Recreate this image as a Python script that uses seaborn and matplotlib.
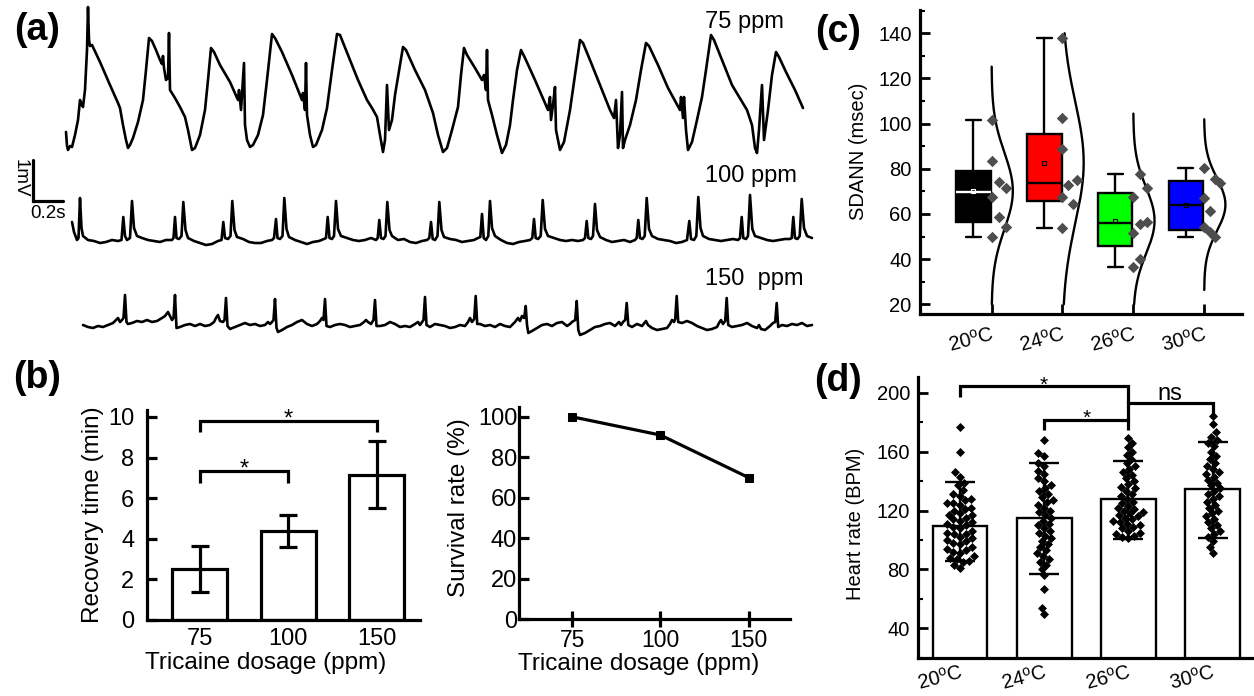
import numpy as np
import pandas as pd
import matplotlib
matplotlib.use('Agg')
import matplotlib.pyplot as plt
from matplotlib.ticker import MultipleLocator
import seaborn as sns

# ---------------- data ----------------
# (a) ECG traces as (sample, raw) pairs
# 150 samples per second, 41 raw units per mV (raw grows downwards)
FS = 150.0
GAIN = 41.0
Y0 = 150.0
trace_75 = [
    (66, 132), (67, 146), (68, 150), (70, 146), (72, 147), (75, 135), (78, 120), (80, 100), (81, 103), (83, 107),
    (85, 90), (87, 50), (88, 7), (89, 40), (90, 46), (92, 45), (100, 62), (110, 85), (118, 103), (120, 108),
    (123, 125), (126, 140), (128, 148),
    (130, 145), (133, 138), (138, 122), (143, 100), (146, 70), (149, 38), (152, 41), (156, 50), (160, 60), (162, 64),
    (163, 56), (164, 68), (166, 80), (168, 78), (169, 33), (170, 90), (175, 98), (180, 107), (185, 117), (188, 130),
    (192, 150),
    (195, 148), (200, 135), (205, 110), (208, 80), (211, 48), (214, 52), (220, 65), (230, 82), (238, 100), (239, 90),
    (241, 110), (244, 63), (245, 125), (247, 140), (250, 147),
    (253, 145), (258, 135), (263, 115), (267, 80), (272, 34), (275, 38), (282, 52), (292, 75), (302, 100), (303, 93),
    (305, 110), (306, 63), (307, 115), (310, 135), (313, 147),
    (316, 145), (322, 130), (327, 108), (332, 70), (337, 34), (340, 35), (348, 55), (358, 80), (367, 100), (372, 108),
    (377, 117), (380, 135), (383, 152), (385, 140), (387, 85), (389, 130), (392, 120),
    (395, 95), (400, 65), (403, 47), (406, 50), (415, 70), (425, 90), (433, 113), (438, 135), (443, 152),
    (447, 148), (452, 130), (458, 107), (461, 75), (464, 48), (467, 55), (475, 68), (482, 80), (484, 75), (486, 90),
    (487, 50), (488, 100), (492, 115), (497, 135), (502, 153),
    (506, 145), (510, 125), (513, 100), (517, 70), (521, 50), (525, 58), (535, 80), (548, 110), (550, 97), (551, 120),
    (553, 105), (555, 87), (556, 130), (560, 150),
    (564, 142), (570, 110), (575, 75), (580, 40), (583, 43), (592, 65), (602, 90), (610, 110), (614, 118), (616, 100),
    (618, 148), (620, 135), (622, 92), (623, 148), (625, 140),
    (630, 125), (636, 100), (641, 70), (646, 43), (649, 46), (658, 65), (668, 88), (680, 110), (681, 97), (683, 118),
    (684, 97), (686, 130), (688, 150),
    (692, 142), (697, 120), (702, 97), (706, 70), (711, 35), (714, 40), (722, 60), (732, 85), (747, 110), (752, 125),
    (755, 148), (757, 153), (759, 130), (762, 85), (764, 140),
    (768, 110), (772, 75), (776, 52), (779, 57), (786, 72), (795, 90), (803, 108)]

trace_100 = [
    (72, 222), (74, 232), (77, 240), (78.5, 238), (80, 198), (81.5, 228), (83, 236), (88, 240), (94, 241), (100, 243),
    (106, 242), (112, 240), (118, 241), (121.5, 240), (123.3, 217), (125, 236), (127, 240), (130, 238), (132, 201),
    (134, 228), (137, 236), (142, 238), (148, 240), (154, 241), (160, 242), (166, 240), (172, 240), (173.5, 238),
    (175, 217), (176.5, 238), (179, 239), (181.5, 236), (183.3, 202), (185.5, 230), (188, 238), (194, 241), (200, 243),
    (206, 245), (212, 244), (218, 241), (221.5, 240), (223.3, 222), (225, 238), (228, 239), (230.5, 236), (232.3, 201),
    (234.5, 230), (237, 237), (243, 239), (249, 242), (255, 243), (261, 243), (267, 241), (272, 240), (274, 238),
    (276, 219), (277.5, 238), (280, 239), (282.5, 236), (284.3, 198), (286.5, 229), (289, 237), (295, 240), (301, 242),
    (307, 244), (313, 242), (319, 241), (324, 239), (326, 238), (327.7, 217), (329.5, 238), (332, 239), (334, 236),
    (336, 201), (338, 229), (341, 236), (347, 238), (353, 240), (359, 241), (365, 240), (371, 238), (376, 240),
    (377.7, 238), (379.3, 220), (381, 238), (383.5, 239), (385.5, 236), (387.3, 202), (389.5, 230), (392, 236),
    (398, 240), (404, 239), (410, 242), (416, 243), (422, 241), (427, 240), (429.3, 238), (431, 222), (432.7, 239),
    (435, 240), (437.5, 236), (439.3, 202), (441.5, 230), (444, 237), (450, 239), (456, 240), (462, 242), (468, 241),
    (474, 240), (478, 238), (480.3, 237), (482, 214), (483.7, 238), (486, 240), (488.3, 236), (490, 201), (492, 228),
    (495, 236), (501, 240), (507, 243), (513, 244), (519, 242), (525, 241), (530, 240), (532.3, 238), (534, 219),
    (535.7, 238), (538, 239), (540.7, 236), (542.7, 200), (545, 229), (548, 236), (554, 238), (560, 240), (566, 241),
    (572, 240), (578, 241), (583, 240), (585, 238), (586.7, 221), (588.3, 238), (591, 239), (593, 236), (595, 204),
    (597, 230), (600, 237), (606, 240), (612, 242), (618, 241), (624, 240), (630, 242), (635, 240), (636.7, 238),
    (638.3, 220), (640, 238), (642.5, 239), (644.7, 236), (646.7, 198), (649, 229), (652, 236), (658, 239), (664, 240),
    (670, 241), (676, 243), (682, 242), (687, 240), (689.3, 221), (691, 239), (694, 240), (696.3, 236), (698.3, 197),
    (700.5, 228), (703, 236), (709, 239), (715, 240), (721, 241), (727, 240), (733, 239), (738, 240), (740, 238),
    (741.7, 217), (743.3, 238), (746, 239), (748, 236), (750, 195), (752.3, 229), (755, 236), (761, 238), (767, 240),
    (773, 241), (779, 240), (785, 239), (790, 239), (791.7, 238), (793.3, 217), (795, 238), (797.5, 239),
    (799.7, 236), (801.7, 199), (804, 228), (807, 236), (812, 238)]

trace_150 = [
    (83, 325), (88, 327), (93, 328), (98, 326), (103, 327), (108, 325), (113, 323), (116, 320), (118, 318), (120, 322),
    (122, 320), (123.5, 318), (125, 295), (126.5, 322), (128, 324), (132, 323), (137, 321), (142, 322), (147, 320),
    (152, 322), (157, 321), (162, 318), (165, 316), (168, 312), (170, 316), (172, 320), (173.5, 318), (175, 295),
    (176.5, 328), (180, 327), (185, 325), (190, 324), (195, 326), (200, 324), (205, 326), (210, 325), (214, 322),
    (216, 318), (218, 315), (220, 321), (223, 322), (224.5, 320), (226, 298), (227.5, 326), (230, 329), (235, 327),
    (240, 325), (245, 323), (250, 325), (255, 324), (260, 326), (265, 325), (268, 322), (270, 324), (272, 322),
    (273.5, 320), (275, 299), (276.5, 328), (278, 332), (282, 330), (287, 327), (292, 325), (297, 322), (302, 320),
    (307, 324), (312, 326), (317, 324), (320, 321), (322, 318), (323.5, 320), (325, 299), (326.5, 326), (330, 327),
    (335, 325), (340, 324), (345, 325), (350, 327), (355, 326), (360, 325), (364, 322), (366, 320), (368, 322),
    (371, 324), (373.5, 320), (375, 300), (376.5, 326), (380, 326), (385, 325), (390, 322), (395, 324), (400, 327),
    (405, 326), (410, 327), (415, 324), (418, 322), (420, 325), (423.5, 320), (425, 297), (426.5, 325), (430, 327),
    (435, 324), (440, 325), (445, 326), (450, 328), (455, 327), (460, 325), (465, 326), (468, 322), (470, 318),
    (472, 322), (474.2, 319), (475.7, 296), (477.2, 324), (480, 324), (485, 326), (490, 325), (495, 327), (500, 324),
    (505, 326), (510, 327), (515, 322), (518, 318), (520, 321), (522, 316), (524.2, 318), (525.7, 306), (527, 325),
    (528.3, 333), (532, 331), (537, 328), (542, 325), (547, 324), (552, 326), (557, 323), (562, 322), (567, 326),
    (570, 324), (572, 322), (575.2, 320), (576.7, 301), (578.3, 330), (580, 335), (585, 333), (590, 330), (595, 327),
    (600, 326), (605, 324), (610, 323), (615, 326), (619, 322), (621, 325), (623, 322), (625.2, 320), (626.7, 303),
    (628.3, 325), (632, 327), (637, 324), (642, 326), (646, 321), (648, 325), (652, 328), (657, 330), (662, 329),
    (667, 328), (670, 324), (672, 320), (674, 322), (675.2, 319), (676.7, 296), (678.2, 322), (682, 323), (687, 321),
    (692, 323), (697, 326), (702, 328), (707, 330), (712, 329), (717, 327), (719, 323), (721, 320), (723, 324),
    (725.2, 321), (726.7, 298), (728.2, 325), (732, 327), (737, 326), (742, 325), (747, 323), (752, 326), (757, 328),
    (759, 325), (761, 329), (765, 330), (770, 326), (773, 323), (775.2, 322), (776.7, 303), (778.2, 327), (782, 325),
    (787, 326), (792, 324), (797, 325), (802, 323), (807, 326), (812, 325)]

# (b) recovery time and survival
doses = ['75', '100', '150']
recovery_mean = [2.5, 4.38, 7.15]
recovery_sd = [1.13, 0.78, 1.65]
survival = [100, 91, 70]

# (c) SDANN per temperature
temps = ['20', '24', '26', '30']
sdann_20 = [101.7, 83.6, 74.3, 71.6, 67.7, 58.8, 54.1, 49.7]
sdann_24 = [137.8, 102.4, 88.6, 72.8, 75.0, 67.4, 64.4, 53.7]
sdann_26 = [67.4, 51.4, 77.7, 71.4, 55.6, 56.6, 39.9, 36.6]
sdann_30 = [80.2, 75.3, 73.6, 66.9, 61.5, 54.1, 51.9, 49.7]
# horizontal placement of the dots next to each box (category units)
dots_20 = [0, 0, 0.10, 0.20, 0, 0.10, 0.20, 0]
dots_24 = [0, 0, 0, 0.08, 0.21, 0, 0.15, 0]
dots_26 = [0, 0, 0.10, 0.20, 0.10, 0.20, 0.10, 0]
dots_30 = [0, 0.15, 0.22, 0, 0.08, 0, 0.08, 0.15]
box_colors = ['#000000', '#ff0000', '#00ff00', '#0000ff']

# (d) heart rate
hr_mean = [109.5, 114.7, 127.6, 134.4]
hr_lo = [85.9, 76.9, 100.6, 101.1]
hr_hi = [139.6, 152.5, 153.8, 166.7]
hr_20 = [177, 160, 146, 143, 139, 137, 134, 131, 130, 128, 127, 125, 125, 124, 122, 121, 120, 118, 117, 117,
         115, 114, 113, 112, 111, 110, 109, 108, 106, 105, 104, 104, 102, 101, 100, 99, 98, 97, 95, 94,
         93, 92, 91, 89, 88, 87, 86, 85, 83, 81]
hr_24 = [168, 159, 157, 152, 150, 147, 145, 142, 140, 137, 135, 133, 131, 129, 127, 126, 124, 122, 120, 119,
         117, 115, 113, 111, 110, 108, 106, 105, 103, 101, 99, 97, 95, 93, 91, 89, 87, 85, 83, 80,
         76, 67, 54, 50]
hr_26 = [169, 166, 163, 160, 158, 155, 152, 150, 148, 146, 144, 142, 140, 138, 136, 135, 133, 131, 130, 128,
         126, 125, 123, 122, 121, 120, 119, 118, 117, 116, 115, 114, 113, 112, 111, 110, 109, 108, 106, 105,
         104, 103, 102, 101]
hr_30 = [184, 179, 173, 170, 168, 166, 164, 160, 157, 155, 152, 150, 148, 146, 145, 143, 141, 139, 137, 135,
         133, 131, 130, 128, 126, 124, 122, 120, 118, 116, 114, 112, 110, 108, 106, 104, 102, 99, 95, 91]

# ---------------- style ----------------
sns.set_theme(style='ticks')
plt.rcParams['font.family'] = ['Liberation Sans', 'DejaVu Sans']
plt.rcParams['mathtext.fontset'] = 'custom'
plt.rcParams['mathtext.rm'] = 'Liberation Sans'
plt.rcParams['mathtext.it'] = 'Liberation Sans:italic'
for key in ['text.color', 'axes.labelcolor', 'xtick.color', 'ytick.color', 'axes.edgecolor']:
    plt.rcParams[key] = 'black'

W, H = 1254, 696
fig = plt.figure(figsize=(W / 100, H / 100), dpi=100)


def add_px(left, top, right, bottom):
    return fig.add_axes([left / W, 1 - bottom / H, (right - left) / W, (bottom - top) / H])


def frame(ax, lw):
    for s in ['top', 'right']:
        ax.spines[s].set_visible(False)
    for s in ['left', 'bottom']:
        ax.spines[s].set_linewidth(lw)
        ax.spines[s].set_color('black')


def bracket(ax, x0, x1, y, leg0, leg1, lw=2.3):
    ax.plot([x0, x0, x1, x1], [leg0, y, y, leg1], color='black', lw=lw,
            solid_capstyle='butt', solid_joinstyle='miter', clip_on=False, zorder=5)


temp_labels = [t + r'$^{\rm o}$C' for t in temps]

# ---------------- (a) traces ----------------
ax_a = add_px(0, 0, 820, 345)
for pts in [trace_75, trace_100, trace_150]:
    arr = np.array(pts, dtype=float)
    sns.lineplot(x=arr[:, 0] / FS, y=(Y0 - arr[:, 1]) / GAIN, ax=ax_a, color='black',
                 lw=1.9, estimator=None, sort=False)
ax_a.set_xlim(0, 820 / FS)
ax_a.set_ylim((Y0 - 345) / GAIN, Y0 / GAIN)
ax_a.axis('off')
# scale bar: 1 mV x 0.2 s
bar_t, bar_v = 0.22, -1.244
ax_a.plot([bar_t, bar_t, bar_t + 0.2], [bar_v + 1, bar_v, bar_v], color='black', lw=2.3,
          solid_joinstyle='miter')
ax_a.text(0.137, -0.68, '1mV', rotation=270, ha='center', va='center', fontsize=13.5)
ax_a.text(0.323, -1.56, '0.2s', ha='center', va='center', fontsize=13.5)
for name, tv in zip(['75 ppm', '100 ppm', '150  ppm'], [3.12, -0.63, -3.15]):
    ax_a.text(4.70, tv, name, ha='left', va='center', fontsize=17)

# ---------------- (b) recovery time ----------------
ax_b1 = add_px(146.7, 410, 420, 620)
sns.barplot(x=doses, y=recovery_mean, ax=ax_b1, color='white', edgecolor='black',
            linewidth=2.3, width=0.62, errorbar=None, saturation=1)
ax_b1.errorbar(range(len(doses)), recovery_mean, yerr=recovery_sd, fmt='none', ecolor='black',
               elinewidth=2.3, capsize=6.8, capthick=2.3, zorder=4)
ax_b1.set_xlim(-0.6, 2.49)
ax_b1.set_ylim(0, 10.34)
ax_b1.set_yticks(range(0, 11, 2))
frame(ax_b1, 2.3)
ax_b1.tick_params(axis='both', direction='in', length=7, width=2.3, labelsize=17)
ax_b1.tick_params(axis='y', pad=9)
ax_b1.tick_params(axis='x', pad=6)
ax_b1.set_ylabel('Recovery time (min)', fontsize=17.5)
ax_b1.set_xlabel('Tricaine dosage (ppm)', fontsize=17.5)
ax_b1.yaxis.set_label_coords(-0.156, 0.5)
ax_b1.xaxis.set_label_coords(0.436, -0.152)
bracket(ax_b1, 0, 2, 9.82, 9.28, 9.28)
bracket(ax_b1, 0, 1, 7.35, 6.76, 6.76)
ax_b1.text(1, 9.56, '*', ha='center', va='baseline', fontsize=17)
ax_b1.text(0.5, 7.11, '*', ha='center', va='baseline', fontsize=17)

# ---------------- (b) survival ----------------
ax_b2 = add_px(519.3, 406.7, 790, 619.3)
sns.lineplot(x=range(len(doses)), y=survival, ax=ax_b2, color='black', lw=2.3, marker='s',
             markersize=6, markeredgecolor='black')
ax_b2.set_xlim(-0.6, 2.47)
ax_b2.set_ylim(0, 105)
ax_b2.set_xticks(range(len(doses)), doses)
ax_b2.set_yticks(range(0, 101, 20))
frame(ax_b2, 2.3)
ax_b2.tick_params(axis='y', direction='in', length=7, width=2.3, labelsize=17, pad=1.5)
ax_b2.tick_params(axis='x', direction='inout', length=12, width=2.3, labelsize=16.5, pad=1)
ax_b2.set_ylabel('Survival rate (%)', fontsize=17.5)
ax_b2.set_xlabel('Tricaine dosage (ppm)', fontsize=17.5)
ax_b2.yaxis.set_label_coords(-0.182, 0.523)
ax_b2.xaxis.set_label_coords(0.44, -0.16)

# ---------------- (c) SDANN ----------------
ax_c = add_px(920, 10, 1241.7, 314.3)
groups_c = [sdann_20, sdann_24, sdann_26, sdann_30]
dots_c = [dots_20, dots_24, dots_26, dots_30]
for i, (vals, off, col) in enumerate(zip(groups_c, dots_c, box_colors)):
    v = np.array(vals)
    stats = [dict(med=np.median(v), q1=np.percentile(v, 25, method='midpoint'),
                  q3=np.percentile(v, 75, method='midpoint'), whislo=v.min(), whishi=v.max(),
                  mean=v.mean(), fliers=[])]
    line_col = 'white' if i == 0 else 'black'
    ax_c.bxp(stats, positions=[i - 0.257], widths=0.49, capwidths=0.21, patch_artist=True,
             showmeans=True, showfliers=False, manage_ticks=False,
             boxprops=dict(facecolor=col, edgecolor='black', linewidth=1.7),
             medianprops=dict(color=line_col, linewidth=1.7),
             whiskerprops=dict(color='black', linewidth=1.7),
             capprops=dict(color='black', linewidth=1.7),
             meanprops=dict(marker='s', markersize=3.5, markerfacecolor='none',
                            markeredgecolor=line_col, markeredgewidth=0.8))
    sns.scatterplot(x=i + np.array(off), y=v, ax=ax_c, marker='D', color='#4d4d4d', s=34,
                    linewidth=0, zorder=4)
    # fitted normal curve drawn on the right side of each group
    m, sd = v.mean(), v.std(ddof=1)
    yy = np.linspace(max(20, m - 3.25 * sd), min(140, m + 3.25 * sd), 200)
    ax_c.plot(i + 0.30 * np.exp(-0.5 * ((yy - m) / sd) ** 2), yy, color='black', lw=1.7)
ax_c.set_xlim(-1.01, 3.53)
ax_c.set_ylim(15.6, 150.3)
ax_c.set_yticks(range(20, 141, 20))
ax_c.yaxis.set_minor_locator(MultipleLocator(10))
ax_c.set_xticks(range(len(temps)))
ax_c.set_xticklabels(temp_labels, rotation=15, ha='right', rotation_mode='anchor')
frame(ax_c, 2.3)
ax_c.tick_params(axis='both', which='major', direction='in', length=7, width=2.0, labelsize=14.5)
ax_c.tick_params(axis='y', which='minor', direction='in', length=3.5, width=1.5)
ax_c.tick_params(axis='y', pad=6)
ax_c.tick_params(axis='x', pad=7)
ax_c.set_ylabel('SDANN (msec)', fontsize=14.5)
ax_c.yaxis.set_label_coords(-0.162, 0.537)

# ---------------- (d) heart rate ----------------
ax_d = add_px(918.3, 376.7, 1253, 658.3)
hr_df = pd.DataFrame({
    'temp': sum([[t] * len(g) for t, g in zip(temps, [hr_20, hr_24, hr_26, hr_30])], []),
    'hr': hr_20 + hr_24 + hr_26 + hr_30})
sns.barplot(x=temps, y=hr_mean, order=temps, ax=ax_d, color='white', edgecolor='black',
            linewidth=1.7, width=0.65, errorbar=None, saturation=1)
sns.swarmplot(data=hr_df, x='temp', y='hr', order=temps, ax=ax_d, marker='D', color='black',
              size=4.6, linewidth=0, zorder=3)
err = [np.array(hr_mean) - np.array(hr_lo), np.array(hr_hi) - np.array(hr_mean)]
ax_d.errorbar(range(len(temps)), hr_mean, yerr=err, fmt='none', ecolor='black', elinewidth=1.7,
              capsize=10.8, capthick=1.7, zorder=4)
ax_d.set_xlim(-0.495, 3.48)
ax_d.set_ylim(19.6, 210.9)
ax_d.set_yticks(range(40, 201, 40))
ax_d.yaxis.set_minor_locator(MultipleLocator(20))
ax_d.set_xticks(range(len(temps)))
ax_d.set_xticklabels(temp_labels, rotation=15, ha='right', rotation_mode='anchor')
ax_d.set_xlabel('')
frame(ax_d, 2.3)
ax_d.tick_params(axis='both', which='major', direction='in', length=7, width=2.0, labelsize=14.5)
ax_d.tick_params(axis='y', which='minor', direction='in', length=3.5, width=1.5)
ax_d.tick_params(axis='y', pad=6)
ax_d.tick_params(axis='x', pad=3)
ax_d.set_ylabel('Heart rate (BPM)', fontsize=14.5)
ax_d.yaxis.set_label_coords(-0.159, 0.477)
bracket(ax_d, 0, 2, 204.5, 197, 193.2)
bracket(ax_d, 2, 3, 193.2, 181.5, 185)
bracket(ax_d, 1, 2, 181.5, 174.7, 174.7)
ax_d.text(1.0, 201.6, '*', ha='center', va='baseline', fontsize=15)
ax_d.text(1.505, 178.7, '*', ha='center', va='baseline', fontsize=15)
ax_d.text(2.49, 195.0, 'ns', ha='center', va='baseline', fontsize=17)

# panel letters
for letter, (px, py) in zip('abcd', [(37, 30), (37, 378), (838, 32), (838, 381)]):
    fig.text(px / W, 1 - py / H, f'({letter})', ha='center', va='center', fontsize=27,
             fontweight='bold')

fig.savefig('out.png', dpi=100)
